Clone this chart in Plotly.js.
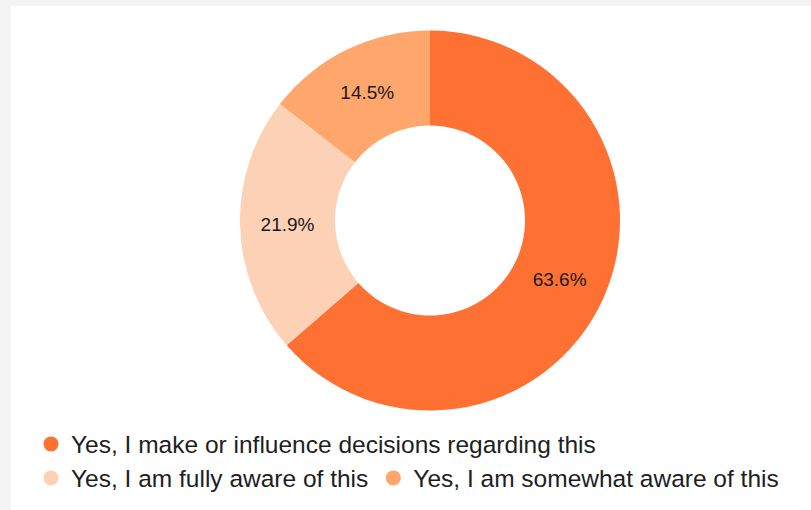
<!DOCTYPE html>
<html>
<head>
<meta charset="utf-8">
<script src="https://cdn.plot.ly/plotly-3.0.1.min.js"></script>
<style>
  html, body { margin: 0; padding: 0; background: #f4f4f4; width: 811px; height: 510px; overflow: hidden; }
  #chart { position: absolute; left: 11px; top: 6px; width: 800px; height: 504px; background: #ffffff; }
</style>
</head>
<body>
<div id="chart"></div>
<script>
const categories = [
  "Yes, I make or influence decisions regarding this",
  "Yes, I am fully aware of this",
  "Yes, I am somewhat aware of this"
];
const values = [63.6, 21.9, 14.5];
const colors = ["#FF7033", "#FDD1B5", "#FFA66D"];

const W = 800, H = 504;
const cx = 419, cy = 214.5, R = 190;

const pie = {
  type: "pie",
  labels: categories,
  values: values,
  sort: false,
  direction: "clockwise",
  rotation: 0,
  hole: 0.5,
  marker: { colors: colors, line: { width: 0 } },
  textinfo: "percent",
  texttemplate: "%{percent:.1%}",
  textposition: "inside",
  insidetextorientation: "horizontal",
  textfont: { family: "Arial, 'Liberation Sans', sans-serif", size: 19, color: "#1a1a1a" },
  showlegend: false,
  hoverinfo: "label+percent",
  domain: { x: [(cx - R) / W, (cx + R) / W], y: [(H - cy - R) / H, (H - cy + R) / H] }
};

const legendTraces = categories.map((c, i) => ({
  type: "scatter",
  mode: "markers",
  x: [null], y: [null],
  name: c,
  marker: { color: colors[i], size: 15, symbol: "circle" },
  legend: i === 0 ? "legend" : "legend2",
  showlegend: true,
  hoverinfo: "skip"
}));

const legFont = { family: "Arial, 'Liberation Sans', sans-serif", size: 24.5, color: "#1e1e1e" };

const layout = {
  width: W, height: H,
  margin: { l: 0, r: 0, t: 0, b: 0 },
  paper_bgcolor: "rgba(0,0,0,0)",
  plot_bgcolor: "rgba(0,0,0,0)",
  xaxis: { visible: false, domain: [0, 0.01] },
  yaxis: { visible: false, domain: [0, 0.01] },
  legend: {
    orientation: "h", x: 20 / W, xanchor: "left", y: (H - 438) / H, yanchor: "middle",
    font: legFont, bgcolor: "rgba(0,0,0,0)", itemclick: false
  },
  legend2: {
    orientation: "h", x: 20 / W, xanchor: "left", y: (H - 472) / H, yanchor: "middle",
    font: legFont, bgcolor: "rgba(0,0,0,0)", itemclick: false
  },
  showlegend: true
};

Plotly.newPlot("chart", [pie].concat(legendTraces), layout, { displayModeBar: false, staticPlot: true });
</script>
</body>
</html>
